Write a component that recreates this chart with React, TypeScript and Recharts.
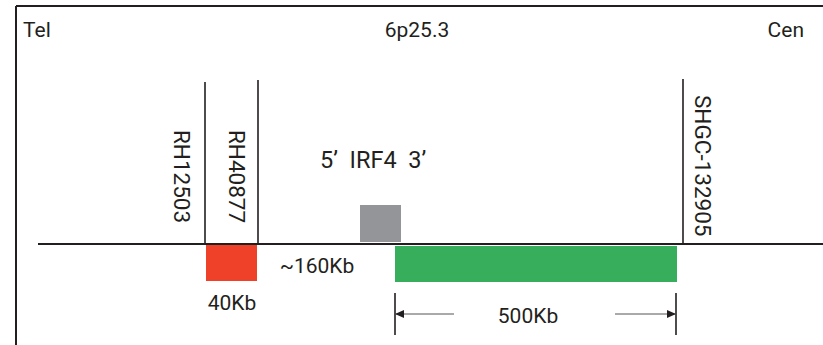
import { ScatterChart, Scatter, XAxis, YAxis, ReferenceLine, ReferenceArea } from 'recharts';

// diagram space: x runs Tel -> Cen, y runs down the figure
const W = 823;
const H = 345;

const INK = '#231f20';
const FONT = 'Roboto, "Noto Sans", sans-serif';

// markers along 6p25.3
const markerNames = ['RH12503', 'RH40877', 'SHGC-132905'];
const markerPos = [205, 258, 683];
const markerTop = [82, 80, 79];
const markerLabelPos = [182, 237, 703];
const markerLabelTop = [130, 130, 95];

// blocks: 40Kb deletion, IRF4 gene, 500Kb region
const blockNames = ['40Kb', 'IRF4', '500Kb'];
const blockStart = [206, 360, 395];
const blockEnd = [257, 401, 677];
const blockTop = [245, 205, 246];
const blockBottom = [281, 242, 282];
const BLOCK_COLORS = ['#ef4129', '#939598', '#37ae5b'];

// plain text labels
const labelText = ['Tel', '6p25.3', 'Cen', '~160Kb', '40Kb', '500Kb'];
const labelPos = [23, 417, 804, 317, 232, 528];
const labelBase = [37, 37, 37, 273, 310, 323];
const labelAnchor = ['start', 'middle', 'end', 'middle', 'middle', 'middle'];

// gene label
const geneLabel = '5’  IRF4  3’';
const geneLabelPos = 320;
const geneLabelBase = 168;

// chromosome line + frame
const chromStart = 38;
const chromY = 244;
const frameX = 16;
const frameY = 6;

// 500Kb dimension
const dimEnds = [395, 676];
const dimTop = 293;
const dimBottom = 335;
const dimY = 314;
const dimShaftEnds = [454, 615];

const labels = labelText.map((t, i) => ({ x: labelPos[i], y: labelBase[i], text: t, anchor: labelAnchor[i] }));
const geneLabels = [{ x: geneLabelPos, y: geneLabelBase, text: geneLabel, anchor: 'start' }];
const markerLabels = markerNames.map((t, i) => ({ x: markerLabelPos[i], y: markerLabelTop[i], text: t }));
const arrowHeads = [
  { x: dimEnds[0], y: dimY, dir: -1 },
  { x: dimEnds[1], y: dimY, dir: 1 },
];

const makeText = (size: number) =>
  function TextShape(p: any) {
    return (
      <text
        x={p.cx}
        y={p.cy}
        textAnchor={p.payload.anchor}
        fontFamily={FONT}
        fontSize={size}
        fill={INK}
        xmlSpace="preserve"
        style={{ whiteSpace: 'pre' }}
      >
        {p.payload.text}
      </text>
    );
  };

function VerticalText(p: any) {
  return (
    <text
      transform={`translate(${p.cx},${p.cy}) rotate(90)`}
      textAnchor="start"
      dy="0.36em"
      fontFamily={FONT}
      fontSize={22.5}
      fill={INK}
    >
      {p.payload.text}
    </text>
  );
}

function ArrowHead(p: any) {
  const d = p.payload.dir;
  const x = p.cx;
  const y = p.cy;
  return <path d={`M${x},${y} L${x - d * 9},${y - 4} L${x - d * 9},${y + 4} Z`} fill={INK} />;
}

export default function App() {
  return (
    <div style={{ position: 'absolute', left: 0, top: 0, background: '#fff' }}>
      <ScatterChart width={W} height={H} margin={{ top: 0, right: 0, bottom: 0, left: 0 }}>
        <XAxis type="number" dataKey="x" domain={[0, W]} hide />
        <YAxis type="number" dataKey="y" domain={[0, H]} reversed hide />

        {/* frame */}
        <ReferenceLine segment={[{ x: frameX, y: frameY }, { x: W, y: frameY }]} stroke={INK} strokeWidth={2} />
        <ReferenceLine segment={[{ x: frameX, y: frameY }, { x: frameX, y: H }]} stroke={INK} strokeWidth={2} />

        {blockNames.map((n, i) => (
          <ReferenceArea
            key={n}
            x1={blockStart[i]}
            x2={blockEnd[i]}
            y1={blockTop[i]}
            y2={blockBottom[i]}
            fill={BLOCK_COLORS[i]}
            fillOpacity={1}
            stroke="none"
          />
        ))}

        {/* chromosome */}
        <ReferenceLine segment={[{ x: chromStart, y: chromY }, { x: W, y: chromY }]} stroke={INK} strokeWidth={2} />

        {markerNames.map((n, i) => (
          <ReferenceLine
            key={n}
            segment={[{ x: markerPos[i], y: markerTop[i] }, { x: markerPos[i], y: chromY }]}
            stroke={INK}
            strokeWidth={1.6}
          />
        ))}

        {/* 500Kb dimension */}
        {dimEnds.map((x) => (
          <ReferenceLine key={x} segment={[{ x, y: dimTop }, { x, y: dimBottom }]} stroke={INK} strokeWidth={1.6} />
        ))}
        <ReferenceLine segment={[{ x: dimEnds[0], y: dimY }, { x: dimShaftEnds[0], y: dimY }]} stroke="#555" strokeWidth={1} />
        <ReferenceLine segment={[{ x: dimShaftEnds[1], y: dimY }, { x: dimEnds[1], y: dimY }]} stroke="#555" strokeWidth={1} />

        <Scatter data={arrowHeads} shape={ArrowHead} isAnimationActive={false} />
        <Scatter data={labels} shape={makeText(21)} isAnimationActive={false} />
        <Scatter data={geneLabels} shape={makeText(23.5)} isAnimationActive={false} />
        <Scatter data={markerLabels} shape={VerticalText} isAnimationActive={false} />
      </ScatterChart>
    </div>
  );
}
